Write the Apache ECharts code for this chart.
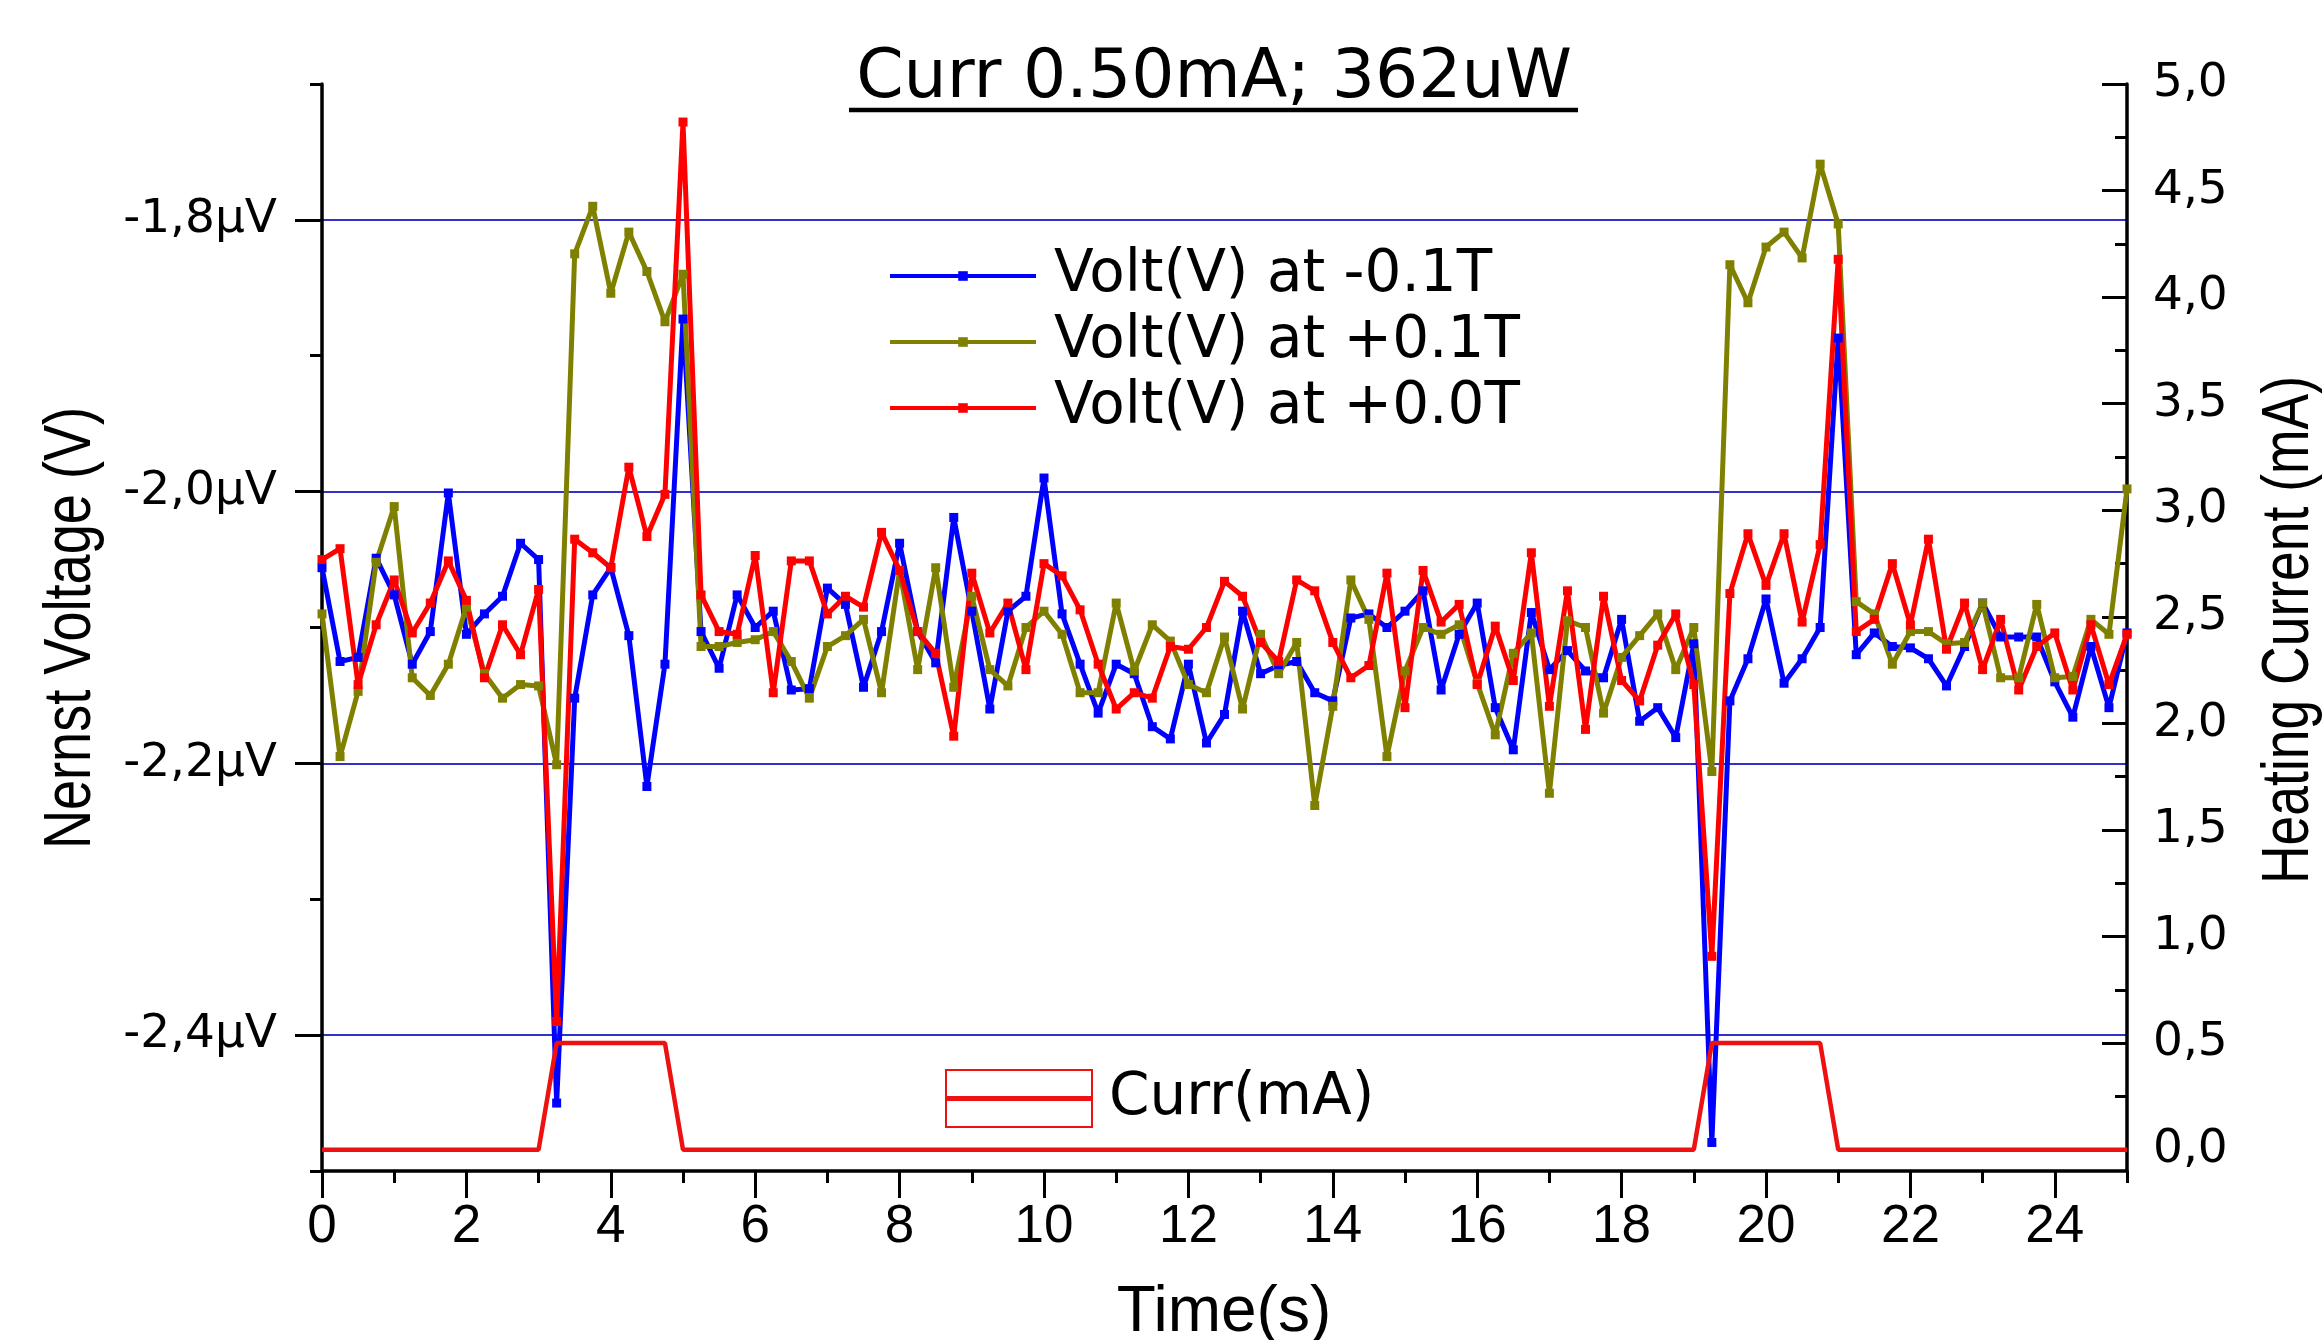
<!DOCTYPE html>
<html>
<head>
<meta charset="utf-8">
<script src="https://cdn.jsdelivr.net/npm/echarts@6/dist/echarts.min.js"></script>
<style>
html,body{margin:0;padding:0;background:#fff;}
#chart{width:2324px;height:1340px;}
</style>
</head>
<body>
<div id="chart"></div>
<script>
// ---- data (time in s, voltage in µV, current in mA) ----
const timeS = [0,0.25,0.5,0.75,1,1.25,1.5,1.75,2,2.25,2.5,2.75,3,3.25,3.5,3.75,4,4.25,4.5,4.75,5,5.25,5.5,5.75,6,6.25,6.5,6.75,7,7.25,7.5,7.75,8,8.25,8.5,8.75,9,9.25,9.5,9.75,10,10.25,10.5,10.75,11,11.25,11.5,11.75,12,12.25,12.5,12.75,13,13.25,13.5,13.75,14,14.25,14.5,14.75,15,15.25,15.5,15.75,16,16.25,16.5,16.75,17,17.25,17.5,17.75,18,18.25,18.5,18.75,19,19.25,19.5,19.75,20,20.25,20.5,20.75,21,21.25,21.5,21.75,22,22.25,22.5,22.75,23,23.25,23.5,23.75,24,24.25,24.5,24.75,25];

const voltNeg01T = [-2.056,-2.125,-2.122,-2.049,-2.076,-2.127,-2.103,-2.001,-2.105,-2.090,-2.077,-2.038,-2.050,-2.450,-2.152,-2.076,-2.056,-2.106,-2.217,-2.127,-1.873,-2.103,-2.130,-2.076,-2.100,-2.088,-2.146,-2.145,-2.071,-2.083,-2.144,-2.103,-2.038,-2.103,-2.126,-2.019,-2.088,-2.160,-2.088,-2.077,-1.990,-2.090,-2.127,-2.163,-2.127,-2.134,-2.173,-2.182,-2.127,-2.185,-2.164,-2.088,-2.134,-2.128,-2.125,-2.148,-2.154,-2.093,-2.090,-2.100,-2.088,-2.073,-2.146,-2.105,-2.082,-2.159,-2.190,-2.089,-2.131,-2.117,-2.132,-2.137,-2.094,-2.169,-2.159,-2.181,-2.112,-2.479,-2.154,-2.123,-2.079,-2.141,-2.123,-2.100,-1.887,-2.120,-2.104,-2.114,-2.115,-2.123,-2.143,-2.114,-2.082,-2.107,-2.107,-2.107,-2.140,-2.166,-2.114,-2.159,-2.104];

const voltPos01T = [-2.090,-2.195,-2.147,-2.052,-2.011,-2.137,-2.150,-2.127,-2.085,-2.134,-2.152,-2.142,-2.143,-2.201,-1.825,-1.790,-1.854,-1.809,-1.838,-1.875,-1.840,-2.114,-2.114,-2.111,-2.109,-2.103,-2.125,-2.152,-2.114,-2.106,-2.094,-2.148,-2.058,-2.131,-2.056,-2.144,-2.077,-2.131,-2.143,-2.100,-2.088,-2.105,-2.148,-2.148,-2.082,-2.132,-2.098,-2.110,-2.142,-2.148,-2.107,-2.160,-2.105,-2.134,-2.111,-2.231,-2.158,-2.065,-2.094,-2.195,-2.132,-2.100,-2.105,-2.098,-2.141,-2.179,-2.119,-2.104,-2.222,-2.095,-2.100,-2.163,-2.122,-2.106,-2.090,-2.131,-2.100,-2.206,-1.833,-1.861,-1.820,-1.809,-1.828,-1.759,-1.803,-2.081,-2.090,-2.127,-2.103,-2.103,-2.112,-2.111,-2.082,-2.137,-2.137,-2.083,-2.137,-2.136,-2.094,-2.105,-1.998];

const voltPos00T = [-2.050,-2.042,-2.142,-2.098,-2.065,-2.104,-2.082,-2.051,-2.080,-2.137,-2.098,-2.120,-2.072,-2.390,-2.035,-2.045,-2.056,-1.982,-2.033,-2.002,-1.728,-2.076,-2.103,-2.105,-2.047,-2.148,-2.051,-2.051,-2.090,-2.077,-2.085,-2.030,-2.058,-2.103,-2.119,-2.180,-2.060,-2.104,-2.082,-2.131,-2.053,-2.062,-2.087,-2.127,-2.160,-2.148,-2.152,-2.114,-2.116,-2.100,-2.066,-2.077,-2.111,-2.125,-2.065,-2.073,-2.111,-2.137,-2.128,-2.060,-2.159,-2.058,-2.096,-2.083,-2.142,-2.099,-2.139,-2.045,-2.158,-2.073,-2.175,-2.077,-2.139,-2.154,-2.113,-2.090,-2.142,-2.342,-2.075,-2.031,-2.069,-2.031,-2.096,-2.039,-1.829,-2.103,-2.094,-2.053,-2.098,-2.035,-2.116,-2.082,-2.131,-2.094,-2.146,-2.114,-2.104,-2.146,-2.098,-2.142,-2.105];

const currMA = [0,0,0,0,0,0,0,0,0,0,0,0,0,0.5,0.5,0.5,0.5,0.5,0.5,0.5,0,0,0,0,0,0,0,0,0,0,0,0,0,0,0,0,0,0,0,0,0,0,0,0,0,0,0,0,0,0,0,0,0,0,0,0,0,0,0,0,0,0,0,0,0,0,0,0,0,0,0,0,0,0,0,0,0,0.5,0.5,0.5,0.5,0.5,0.5,0.5,0,0,0,0,0,0,0,0,0,0,0,0,0,0,0,0,0];

const leftMajorTicks = [-2.4,-2.2,-2.0,-1.8];
const rightMajorTicks = [0,0.5,1.0,1.5,2.0,2.5,3.0,3.5,4.0,4.5,5.0];
const rightMinorTicks = [0.25,0.75,1.25,1.75,2.25,2.75,3.25,3.75,4.25,4.75];
const xMajorTicks = [0,2,4,6,8,10,12,14,16,18,20,22,24];

const seriesNames = ['Volt(V) at -0.1T','Volt(V) at +0.1T','Volt(V) at +0.0T','Curr(mA)'];
const titleText = 'Curr 0.50mA; 362uW';

// ---- chart ----
const chart = echarts.init(document.getElementById('chart'), null, {renderer:'canvas'});
const pair = arr => timeS.map((t,i) => [t, arr[i]]);
const AX = '#000';
const tickFont = {fontFamily:'DejaVu Sans', fontSize:47, color:'#000'};

const voltSeries = (name, arr, color) => ({
  name, type:'line', xAxisIndex:0, yAxisIndex:0, data: pair(arr),
  symbol:'rect', symbolSize:9, showAllSymbol:true,
  lineStyle:{width:5, color}, itemStyle:{color},
  emphasis:{disabled:true}, z:3
});

const currIcon = 'path://M0,0L148,0L148,59L0,59Z M2,2L2,57L146,57L146,2Z M2,27L146,27L146,32L2,32Z';

chart.setOption({
  animation:false,
  grid:{left:322, right:197, top:84, bottom:169, containLabel:false},
  xAxis:[
    {type:'value', min:0, max:25, interval:1, position:'bottom',
     axisLine:{show:true, onZero:false, lineStyle:{color:AX, width:3.5}},
     axisTick:{show:true, inside:false, length:12, lineStyle:{color:AX, width:3}},
     axisLabel:{show:true, margin:30, fontFamily:'Liberation Sans', fontSize:53, color:'#000',
       formatter: v => (Math.round(v) % 2 === 0 && v < 25) ? String(Math.round(v)) : ''},
     splitLine:{show:false}},
    {type:'value', min:0, max:25, position:'bottom',
     axisLine:{show:false, onZero:false},
     axisTick:{show:true, inside:false, length:27, customValues:xMajorTicks, lineStyle:{color:AX, width:3}},
     axisLabel:{show:false}, splitLine:{show:false}}
  ],
  yAxis:[
    {type:'value', min:-2.5, max:-1.7, interval:0.1, position:'left',
     axisLine:{show:true, onZero:false, lineStyle:{color:AX, width:3.5}},
     axisTick:{show:true, inside:false, length:12, lineStyle:{color:AX, width:3}},
     axisLabel:Object.assign({show:true, margin:45,
       formatter: v => { const k = Math.round(v*10); if (k % 2 !== 0) return ''; return (k/10).toFixed(1).replace('.', ',') + 'µV'; }}, tickFont),
     splitLine:{show:true, lineStyle:{color:['rgba(0,0,0,0)','#3232c8'], width:1.8}}},
    {type:'value', min:-2.5, max:-1.7, position:'left',
     axisLine:{show:false, onZero:false},
     axisTick:{show:true, inside:false, length:27, customValues:leftMajorTicks, lineStyle:{color:AX, width:3}},
     axisLabel:{show:false}, splitLine:{show:false}},
    {type:'value', min:-0.1, max:5.0, position:'right',
     axisLine:{show:true, onZero:false, lineStyle:{color:AX, width:3.5}},
     axisTick:{show:true, inside:true, length:25, customValues:rightMajorTicks, lineStyle:{color:AX, width:3}},
     axisLabel:Object.assign({show:true, margin:26, customValues:rightMajorTicks,
       formatter: v => v.toFixed(1).replace('.', ',')}, tickFont),
     splitLine:{show:false}},
    {type:'value', min:-0.1, max:5.0, position:'right',
     axisLine:{show:false, onZero:false},
     axisTick:{show:true, inside:true, length:12, customValues:rightMinorTicks, lineStyle:{color:AX, width:3}},
     axisLabel:{show:false}, splitLine:{show:false}}
  ],
  legend:[
    {data:seriesNames.slice(0,3), orient:'vertical', left:883, top:238, itemGap:0,
     itemWidth:146, itemHeight:12, lineStyle:{width:4},
     textStyle:{fontFamily:'DejaVu Sans', fontSize:58, color:'#000', lineHeight:66, padding:[0,0,0,13]},
     selectedMode:false},
    {data:[{name:seriesNames[3], icon:currIcon}], orient:'vertical', left:940, top:1064,
     itemWidth:148, itemHeight:59,
     textStyle:{fontFamily:'DejaVu Sans', fontSize:58, color:'#000', lineHeight:59, padding:[0,0,0,11]},
     selectedMode:false}
  ],
  graphic:[
    {type:'text', x:1214, y:79, style:{text:titleText, x:0, y:0, textAlign:'center', textVerticalAlign:'middle',
      fontFamily:'DejaVu Sans', fontSize:68, fill:'#000'}, silent:true},
    {type:'line', shape:{x1:849, y1:110, x2:1578, y2:110}, style:{stroke:'#000', lineWidth:4.5}, silent:true},
    {type:'text', x:72, y:628, rotation:Math.PI/2, scaleX:0.82, style:{text:'Nernst Voltage (V)', x:0, y:0, textAlign:'center', textVerticalAlign:'middle',
      fontFamily:'Liberation Sans', fontSize:66, fill:'#000'}, silent:true},
    {type:'text', x:2290, y:630, rotation:Math.PI/2, scaleX:0.81, style:{text:'Heating Current (mA)', x:0, y:0, textAlign:'center', textVerticalAlign:'middle',
      fontFamily:'Liberation Sans', fontSize:66, fill:'#000'}, silent:true},
    {type:'text', x:1224, y:1313, style:{text:'Time(s)', x:0, y:0, textAlign:'center', textVerticalAlign:'middle',
      fontFamily:'Liberation Sans', fontSize:64, fill:'#000'}, silent:true}
  ],
  series:[
    voltSeries(seriesNames[0], voltNeg01T, '#0000ff'),
    voltSeries(seriesNames[1], voltPos01T, '#808000'),
    voltSeries(seriesNames[2], voltPos00T, '#ff0000'),
    {name:seriesNames[3], type:'line', xAxisIndex:0, yAxisIndex:2, data:pair(currMA),
     symbol:'none', lineStyle:{width:4.5, color:'#ee1111'}, itemStyle:{color:'#ee1111'},
     emphasis:{disabled:true}, z:4}
  ]
});
</script>
</body>
</html>
